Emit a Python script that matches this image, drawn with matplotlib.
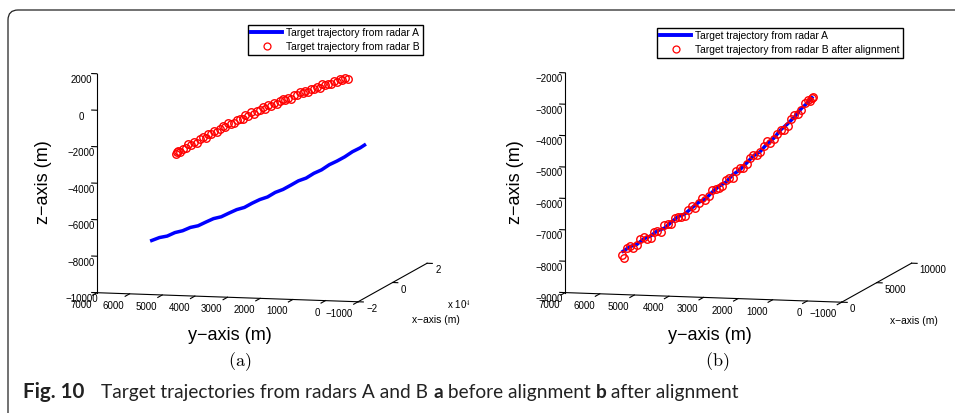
import matplotlib.pyplot as plt
from matplotlib.lines import Line2D
from matplotlib.patches import FancyBboxPatch
from matplotlib.transforms import IdentityTransform, ScaledTranslation

plt.rcParams['font.family'] = ['Liberation Sans', 'DejaVu Sans']
plt.rcParams['mathtext.fontset'] = 'cm'

# radar A trajectory (same in both panels)
a_y = [6750, 6500, 6250, 6000, 5750, 5500, 5250, 5000, 4750, 4500, 4250, 4000, 3750, 3500, 3250,
       3000, 2750, 2500, 2250, 2000, 1750, 1500, 1250, 1000, 750, 500, 250, 0, -140]
a_x = [7050, 6790, 6540, 6280, 6030, 5770, 5520, 5260, 5000, 4750, 4490, 4240, 3980, 3720, 3470,
       3210, 2960, 2700, 2450, 2190, 1930, 1680, 1420, 1170, 910, 660, 400, 140, 0]
a_z = [-8550, -8360, -8250, -8030, -7900, -7690, -7570, -7340, -7120, -6990, -6760, -6540, -6390,
       -6130, -5900, -5730, -5450, -5260, -5000, -4730, -4550, -4260, -4040, -3730, -3500, -3240,
       -2930, -2690, -2520]

# radar B trajectory before alignment
bb_y = [6100, 6080, 6060, 5986, 5892, 5798, 5704, 5610, 5516, 5422, 5328, 5234, 5140, 5046, 4952,
        4858, 4764, 4670, 4576, 4482, 4388, 4294, 4200, 4106, 4012, 3918, 3824, 3730, 3636, 3542,
        3448, 3354, 3260, 3166, 3072, 2978, 2884, 2790, 2696, 2602, 2508, 2414, 2320, 2226, 2132,
        2038, 1944, 1850, 1756, 1662, 1568, 1474, 1380, 1286, 1192, 1098, 1004, 910, 816, 722,
        628, 534, 440]
bb_x = [9050, 9000, 8950, 8875, 8750, 8625, 8500, 8375, 8250, 8125, 8000, 7875, 7750, 7625, 7500,
        7375, 7250, 7125, 7000, 6875, 6750, 6625, 6500, 6375, 6250, 6125, 6000, 5875, 5750, 5625,
        5500, 5375, 5250, 5125, 5000, 4875, 4750, 4625, 4500, 4375, 4250, 4125, 4000, 3875, 3750,
        3625, 3500, 3375, 3250, 3125, 3000, 2875, 2750, 2625, 2500, 2375, 2250, 2125, 2000, 1875,
        1750, 1625, 1500]
bb_z = [-3870, -3740, -3700, -3776, -3561, -3529, -3296, -3305, -3134, -3185, -2965, -2817, -2849,
        -2653, -2627, -2423, -2498, -2305, -2162, -2181, -1939, -1970, -1930, -1732, -1664, -1678,
        -1461, -1466, -1251, -1318, -1145, -1104, -942, -1022, -812, -804, -636, -689, -522, -387,
        -442, -309, -336, -124, -122, 38, -2, 136, 95, 302, 299, 414, 379, 592, 536, 648, 620, 800,
        771, 950, 908, 1015, 992]

# radar B trajectory after alignment
ba_y = [6780, 6720, 6625, 6500, 6375, 6250, 6125, 6000, 5875, 5750, 5625, 5500, 5375, 5250, 5125,
        5000, 4875, 4750, 4625, 4500, 4375, 4250, 4125, 4000, 3875, 3750, 3625, 3500, 3375, 3250,
        3125, 3000, 2875, 2750, 2625, 2500, 2375, 2250, 2125, 2000, 1875, 1750, 1625, 1500, 1375,
        1250, 1125, 1000, 875, 750, 625, 500, 375, 250, 125, 0, -70, -140, -160]
ba_x = [7080, 7020, 6920, 6790, 6660, 6540, 6410, 6280, 6150, 6030, 5900, 5770, 5640, 5520, 5390,
        5260, 5130, 5000, 4880, 4750, 4620, 4490, 4360, 4240, 4110, 3980, 3850, 3720, 3600, 3470,
        3340, 3210, 3080, 2960, 2830, 2700, 2570, 2450, 2320, 2190, 2060, 1930, 1810, 1680, 1550,
        1420, 1290, 1170, 1040, 910, 780, 660, 530, 400, 270, 140, 70, 0, -20]
ba_z = [-8670, -8760, -8422, -8333, -8372, -8271, -8068, -7974, -8009, -7963, -7765, -7687, -7707,
        -7457, -7425, -7402, -7187, -7142, -7105, -7058, -6839, -6709, -6727, -6555, -6371, -6417,
        -6271, -6064, -5996, -5957, -5886, -5655, -5582, -5558, -5303, -5207, -5179, -5031, -4811,
        -4700, -4678, -4575, -4360, -4185, -4208, -4060, -3871, -3731, -3710, -3568, -3314, -3169,
        -3133, -2987, -2748, -2629, -2650, -2541, -2480]

y_ticks = [-1000, 0, 1000, 2000, 3000, 4000, 5000, 6000, 7000]
za_ticks = [-10000, -8000, -6000, -4000, -2000, 0, 2000]
zb_ticks = [-9000, -8000, -7000, -6000, -5000, -4000, -3000, -2000]
xa_ticks = [-20000, 0, 20000]
xa_labels = ['\u22122', '0', '2']
xb_ticks = [0, 5000, 10000]
xb_labels = ['0', '5000', '10000']

W, H = 955, 413
fig = plt.figure(figsize=(W / 100, H / 100), dpi=100)


def px_rect(cx, cy, s):
    return [(cx - s / 2) / W, 1 - (cy + s / 2) / H, s / W, s / H]


def num(v):
    return str(v).replace('-', '\u2212')


def setup(ax, xlim, zlim, aspect, zoom, xticks, xlabels, zticks):
    ax.set_proj_type('ortho')
    ax.view_init(elev=8, azim=194)
    ax.set_box_aspect(aspect, zoom=zoom)
    ax.set_xlim(*xlim, view_margin=0)
    ax.set_ylim(-1000, 7000, view_margin=0)
    ax.set_zlim(*zlim, view_margin=0)
    ax.patch.set_alpha(0)
    ax.grid(False)
    for axis in (ax.xaxis, ax.yaxis, ax.zaxis):
        axis.pane.set_visible(False)
        axis.line.set_linewidth(0.8)
        axis.line.set_color('black')
    # tick marks: y ticks point back along x, x ticks point along y, z ticks outward along y
    ax.xaxis._axinfo['tick'].update(inward_factor=0.25, outward_factor=0.0)
    ax.yaxis._axinfo['tick'].update(inward_factor=0.8, outward_factor=0.0)
    ax.zaxis._axinfo['tick'].update(inward_factor=0.0, outward_factor=0.25)
    ax.zaxis._get_tickdir = lambda position: 1
    ax.tick_params(labelsize=7, width=0.8)
    ax.zaxis.set_tick_params(pad=-1)
    ax.set_xticks(xticks)
    ax.set_xticklabels([])
    ax.set_yticks(y_ticks)
    ax.set_yticklabels([])
    ax.set_zticks(zticks)
    ax.set_xlabel('')
    ax.set_ylabel('')
    ax.set_zlabel('')
    # y tick labels: right-aligned, just left of and below each tick
    off_y = ScaledTranslation(-0.05, -0.07, fig.dpi_scale_trans)
    for v in y_ticks:
        t = ax.text(xlim[0], v, zlim[0], num(v), ha='right', va='top', fontsize=7)
        t.set_transform(ax.transData + off_y)
    # x tick labels: left-aligned, right of and below each tick
    off_x = ScaledTranslation(0.08, -0.07, fig.dpi_scale_trans)
    for v, s in zip(xticks, xlabels):
        t = ax.text(v, -1000, zlim[0], s, ha='left', va='center', fontsize=7)
        t.set_transform(ax.transData + off_x)


S = 400
ax_a = fig.add_axes(px_rect(256.6, 173.9, S), projection='3d')
setup(ax_a, (-20000, 20000), (-10000, 2000), (285, 269, 221), 437 / S, xa_ticks, xa_labels, za_ticks)
ax_a.plot(a_x, a_y, a_z, color='blue', lw=2.5)
ax_a.plot(bb_x, bb_y, bb_z, ls='none', marker='o', ms=5.4, mfc='none', mec='red', mew=1.0)

ax_b = fig.add_axes(px_rect(733, 173.4, S), projection='3d')
setup(ax_b, (0, 10000), (-9000, -2000), (289, 285, 222), 449 / S, xb_ticks, xb_labels, zb_ticks)
ax_b.plot(a_x, a_y, a_z, color='blue', lw=2.5)
ax_b.plot(ba_x, ba_y, ba_z, ls='none', marker='o', ms=5.4, mfc='none', mec='red', mew=1.0)

leg_kw = dict(loc='upper left', borderaxespad=0, fontsize=7.4, fancybox=False, edgecolor='black',
              framealpha=1, handlelength=3.0, labelspacing=0.35, borderpad=0.3, handletextpad=0.4)
ha_line = Line2D([], [], color='blue', lw=2.8)
hb_mark = Line2D([], [], ls='none', marker='o', ms=5, mfc='none', mec='red', mew=0.9)
lg1 = fig.legend([ha_line, hb_mark], ['Target trajectory from radar A', 'Target trajectory from radar B'],
                 bbox_to_anchor=(248 / W, 1 - 25 / H), **leg_kw)
lg1.get_frame().set_linewidth(1.0)
lg2 = fig.legend([ha_line, hb_mark],
                 ['Target trajectory from radar A', 'Target trajectory from radar B after alignment'],
                 bbox_to_anchor=(657 / W, 1 - 28 / H), **leg_kw)
lg2.get_frame().set_linewidth(1.0)


def ftext(x, y, s, **kw):
    return fig.text(x / W, 1 - y / H, s, **kw)


for cx in (43, 515):
    ftext(cx, 182, 'z\u2212axis (m)', fontsize=13, rotation=90, ha='center', va='center')
for cx in (230, 710):
    ftext(cx, 335, 'y\u2212axis (m)', fontsize=13, ha='center', va='center')
ftext(436, 320, 'x\u2212axis (m)', fontsize=7.4, ha='center', va='center')
ftext(914, 321, 'x\u2212axis (m)', fontsize=7.4, ha='center', va='center')
ftext(447, 305, 'x 10$^{4}$', fontsize=7, ha='left', va='center')
ftext(240, 362, '$\\mathrm{(a)}$', fontsize=13, ha='center', va='center')
ftext(717, 362, '$\\mathrm{(b)}$', fontsize=13, ha='center', va='center')

# caption with mixed weights, scaled to span the reference width
r = fig.canvas.get_renderer()
cap = [('Fig. 10', 'bold'), ('Target trajectories from radars A and B ', 'normal'),
       ('a', 'bold'), (' before alignment ', 'normal'), ('b', 'bold'), (' after alignment', 'normal')]
cap_fam = ['Lato', 'DejaVu Sans']
probe = 0
for s, wt in cap:
    t = fig.text(0, 0, s, fontsize=10, fontweight=wt, family=cap_fam)
    probe += t.get_window_extent(r).width
    t.remove()
cap_size = 10 * (738 - 23 - 19) / probe
x = 23
for i, (s, wt) in enumerate(cap):
    t = ftext(x, 398, s, fontsize=cap_size * (1.08 if i == 0 else 1), fontweight=wt,
              family=cap_fam, va='baseline', color='#222222')
    x += t.get_window_extent(r).width + (17 if i == 0 else 0)

fig.patches.append(FancyBboxPatch((8, -40), 1000, 443, boxstyle='round,pad=0,rounding_size=10',
                                  transform=IdentityTransform(), fill=False, lw=0.9,
                                  edgecolor='#222222', figure=fig))

fig.savefig('out.png', dpi=100)
